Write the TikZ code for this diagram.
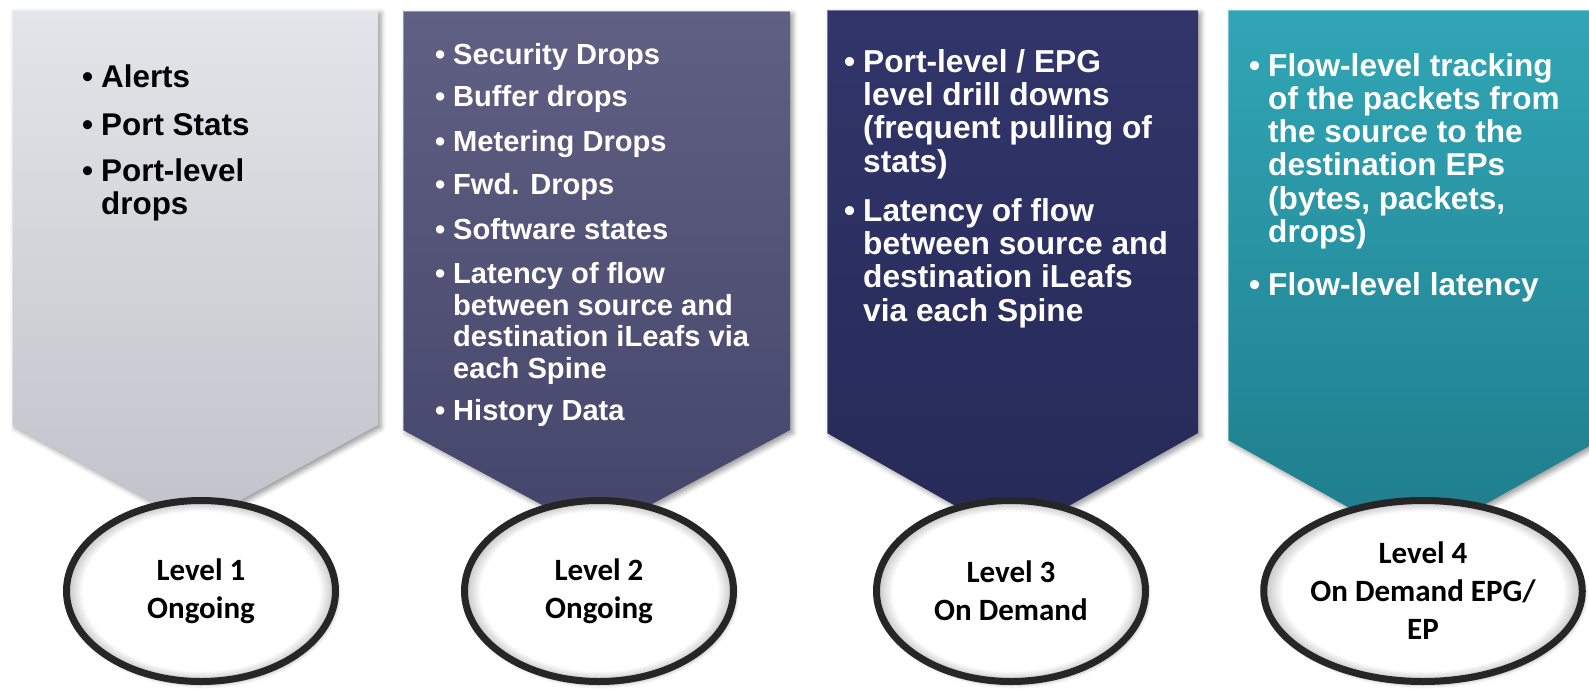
\documentclass[tikz,border=0pt]{standalone}
\usepackage{fontspec}
\setmainfont{Liberation Sans}
\newfontfamily\calfont{Carlito}
\usetikzlibrary{shapes.geometric,shadows.blur}
\definecolor{gAt}{HTML}{E4E5EA}\definecolor{gAb}{HTML}{C2C3CA}
\definecolor{gBt}{HTML}{5F6083}\definecolor{gBb}{HTML}{44456A}
\definecolor{gCt}{HTML}{31356A}\definecolor{gCb}{HTML}{262A57}
\definecolor{gDt}{HTML}{31A6B6}\definecolor{gDb}{HTML}{1E7C8B}
\pgfdeclareradialshading{ellrim}{\pgfpoint{0bp}{0bp}}{color(0bp)=(white); color(22bp)=(white); color(25bp)=(black!25); color(50bp)=(black!25)}
\newcommand\bul{\llap{\textbullet\hspace{8pt}}}
\tikzset{
  chev/.style={blur shadow={shadow xshift=3pt,shadow yshift=-3pt,shadow blur radius=5pt,shadow opacity=40}},
  bevel/.style={draw=white,draw opacity=0.35,line width=1.5pt},
  itemtxt/.style={anchor=base west,inner sep=0pt,align=left},
  fA/.style={font=\fontsize{31.4}{33}\selectfont\bfseries,text=black},
  fB/.style={font=\fontsize{29.1}{31.5}\selectfont\bfseries,text=white},
  fC/.style={font=\fontsize{31.7}{33.3}\selectfont\bfseries,text=white},
  fD/.style={font=\fontsize{31.6}{33.3}\selectfont\bfseries,text=white},
  lvl/.style={ellipse,draw=black!85,line width=7pt,shading=ellrim,
    minimum width=269pt,minimum height=181pt,inner sep=0pt,align=center,
    font=\calfont\bfseries\fontsize{31}{38}\selectfont,text=black,
    blur shadow={shadow xshift=2pt,shadow yshift=-3pt,shadow blur radius=4pt,shadow opacity=35}}
}
\begin{document}
\begin{tikzpicture}[x=1pt,y=-1pt]
\useasboundingbox (0,0) rectangle (1589,688);
\clip (0,0) rectangle (1589,688);
% chevrons
\shade[chev,top color=gAt,bottom color=gAb] (12,10) -- (378,10) -- (378,425) -- (195,525) -- (12,425) -- cycle;
\draw[bevel] (12,425) -- (12,10) -- (378,10);
\shade[chev,top color=gBt,bottom color=gBb] (403,11) -- (790,11) -- (790,430) -- (596,534) -- (403,430) -- cycle;
\draw[bevel] (403,430) -- (403,11) -- (790,11);
\shade[chev,top color=gCt,bottom color=gCb] (827,10) -- (1198,10) -- (1198,433) -- (1012,538) -- (827,433) -- cycle;
\draw[bevel] (827,433) -- (827,10) -- (1198,10);
\shade[chev,top color=gDt,bottom color=gDb] (1228,10) -- (1600,10) -- (1600,440) -- (1414,544) -- (1228,440) -- cycle;
\draw[bevel] (1228,440) -- (1228,10) -- (1600,10);
% column 1
\node[itemtxt,fA] (a1) at (101,87) {\bul Alerts};
\node[itemtxt,fA] (a2) at (101,135) {\bul Port Stats};
\node[itemtxt,fA] (a3) at (101,214) {\bul Port-level\\drops};
% column 2
\node[itemtxt,fB] (b1) at (453,64.5) {\bul Security Drops};
\node[itemtxt,fB] (b2) at (453,106.5) {\bul Buffer drops};
\node[itemtxt,fB] (b3) at (453,151.5) {\bul Metering Drops};
\node[itemtxt,fB] (b4) at (453,194.5) {\bul Fwd. Drops};
\node[itemtxt,fB] (b5) at (453,239.5) {\bul Software states};
\node[itemtxt,fB] (b6) at (453,378) {\bul Latency of flow\\between source and\\destination iLeafs via\\each Spine};
\node[itemtxt,fB] (b7) at (453,420.5) {\bul History Data};
% column 3
\node[itemtxt,fC] (c1) at (863,172) {\bul Port-level / EPG\\level drill downs\\(frequent pulling of\\stats)};
\node[itemtxt,fC] (c2) at (863,321) {\bul Latency of flow\\between source and\\destination iLeafs\\via each Spine};
% column 4
\node[itemtxt,fD] (d1) at (1268,242.5) {\bul Flow-level tracking\\of the packets from\\the source to the\\destination EPs\\(bytes, packets,\\drops)};
\node[itemtxt,fD] (d2) at (1268,295) {\bul Flow-level latency};
% level ellipses
\node[lvl] (e1) at (201,591) {Level 1\\Ongoing};
\node[lvl] (e2) at (599,591) {Level 2\\Ongoing};
\node[lvl] (e3) at (1011,591) {Level 3\\On Demand};
\node[lvl] (e4) at (1423,591) {Level 4\\On Demand EPG/\\EP};
\end{tikzpicture}
\end{document}
